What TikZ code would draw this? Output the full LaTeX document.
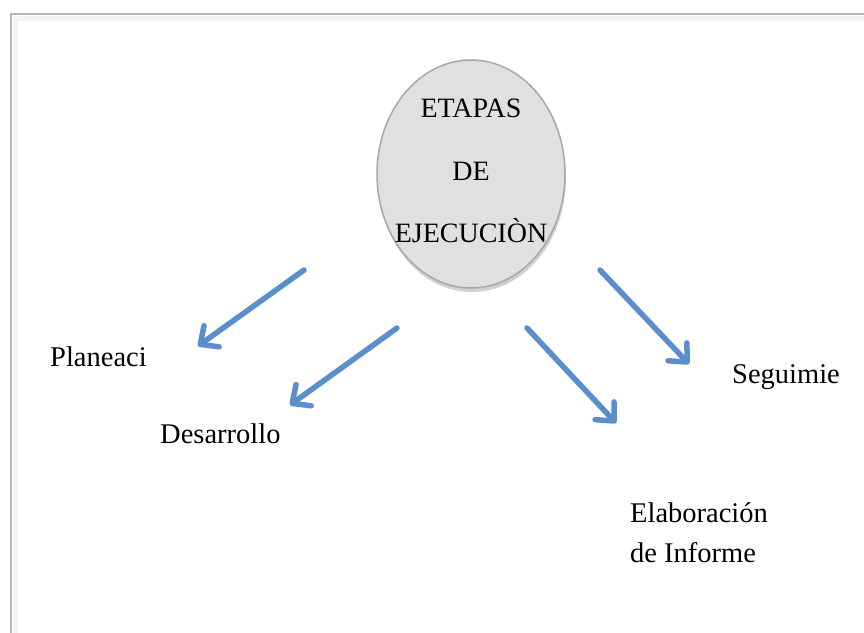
\documentclass[tikz,border=0pt]{standalone}
\usepackage{fontspec}
\setmainfont{Liberation Serif}
\usetikzlibrary{shapes.geometric,arrows.meta,shadows}
\definecolor{arrowblue}{HTML}{5A8FCC}
\definecolor{ellfill}{HTML}{E0E0E0}
\definecolor{ellline}{HTML}{A8A8A8}
\definecolor{framegray}{HTML}{B4B4B4}
\tikzset{
  lbl/.style={anchor=base west, inner sep=0pt, font=\fontsize{28.5}{40}\selectfont, text=black},
  bluearrow/.style={draw=arrowblue, line width=5.5pt, line cap=round, line join=round,
    -{Straight Barb[length=14pt,width=26pt,line cap=round,line join=round]},
    drop shadow={shadow xshift=1pt, shadow yshift=-2pt, opacity=0.2, fill=black}},
  oval/.style={ellipse, draw=ellline, line width=1.5pt, fill=ellfill, inner sep=0pt,
    minimum width=188pt, minimum height=228pt,
    drop shadow={shadow xshift=1pt, shadow yshift=-4pt, opacity=0.3, fill=black!60}},
}
\begin{document}
\begin{tikzpicture}[x=1pt,y=-1pt]
\useasboundingbox (0,0) rectangle (864,632);
\fill[white] (0,0) rectangle (864,632);
% frame
\draw[gray!10, line width=5pt] (15,660) -- (15,18) -- (880,18);
\draw[framegray, line width=2.5pt] (11,660) -- (11,14) -- (880,14);
% central ellipse
\node[oval] (etapas) at (471,174) {};
\node[align=center, inner sep=0pt, font=\fontsize{28}{62.5}\selectfont] (etapastxt) at (471,171) {ETAPAS\\DE\\EJECUCIÒN};
% labels
\node[lbl] (plan) at (50,366) {Planeaci};
\node[lbl] (des) at (160,443) {Desarrollo};
\node[lbl] (seg) at (732,383) {Seguimie};
\node[lbl] (ela) at (630,522) {Elaboración};
\node[lbl] (inf) at (630,562) {de Informe};
% arrow endpoints
\coordinate (a1s) at (304,270); \coordinate (a1e) at (198,346);
\coordinate (a2s) at (397,328); \coordinate (a2e) at (290,405);
\coordinate (a3s) at (527,328); \coordinate (a3e) at (616,423);
\coordinate (a4s) at (600,270); \coordinate (a4e) at (689,364);
\draw[bluearrow] (a1s) -- (a1e);
\draw[bluearrow] (a2s) -- (a2e);
\draw[bluearrow] (a3s) -- (a3e);
\draw[bluearrow] (a4s) -- (a4e);
\end{tikzpicture}
\end{document}
